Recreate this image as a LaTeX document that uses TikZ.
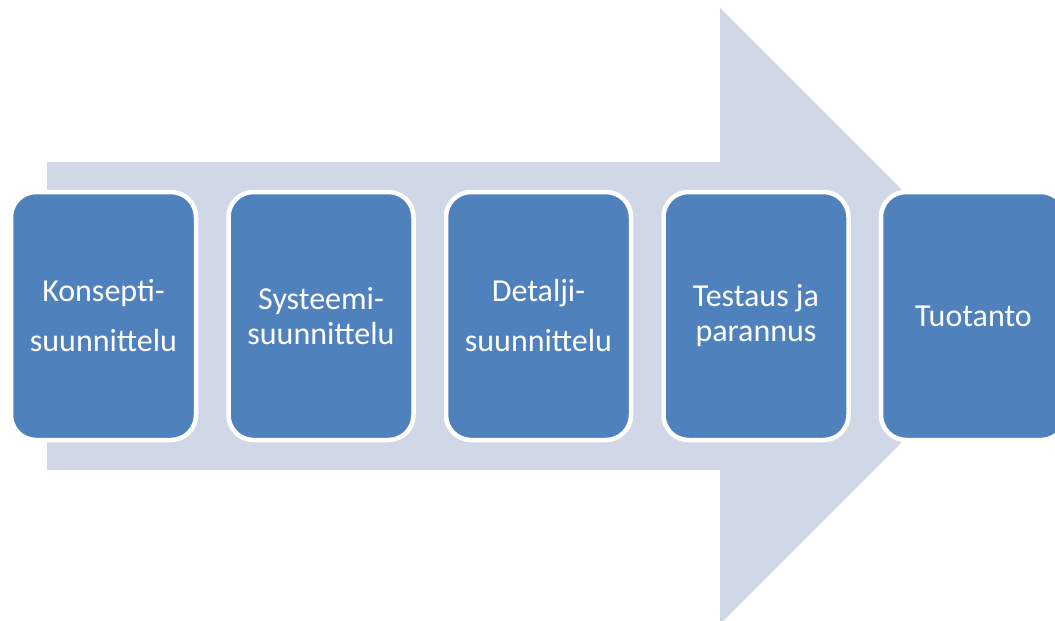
\documentclass[tikz,border=0pt]{standalone}
\usepackage{fontspec}
\setmainfont{Carlito}
\definecolor{arrowgray}{RGB}{208,216,232}
\definecolor{boxblue}{RGB}{79,129,189}
\tikzset{
  phasebox/.style={rectangle, rounded corners=25pt, draw=white, line width=4.5pt,
    fill=boxblue, minimum width=185pt, minimum height=248pt, inner sep=0pt,
    text=white, align=center, font=\fontsize{32}{35}\selectfont}
}
\begin{document}
\begin{tikzpicture}[x=1pt,y=-1pt]
\useasboundingbox (0,0) rectangle (1055,621);
\clip (0,0) rectangle (1055,621);
\fill[arrowgray] (47,162) -- (720,162) -- (720,8) -- (1028,316) -- (720,624) -- (720,470) -- (47,470) -- cycle;
\node[phasebox] (b1) at (103.5,316) {Konsepti-\\[15pt]suunnittelu};
\node[phasebox] (b2) at (321,316) {Systeemi-\\suunnittelu};
\node[phasebox] (b3) at (538.5,316) {Detalji-\\[15pt]suunnittelu};
\node[phasebox] (b4) at (756,316) {Testaus ja\\parannus};
\node[phasebox] (b5) at (973.5,316) {Tuotanto};
\end{tikzpicture}
\end{document}
